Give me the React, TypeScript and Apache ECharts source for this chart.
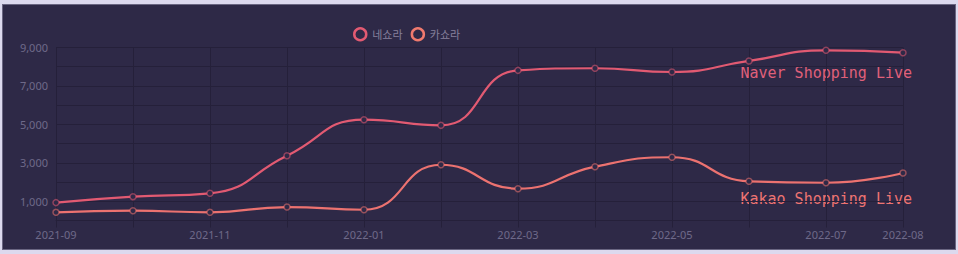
import React, { useEffect, useRef } from "react";
import * as echarts from "echarts";

const categories = [
  "2021-09", "2021-10", "2021-11", "2021-12", "2022-01", "2022-02",
  "2022-03", "2022-04", "2022-05", "2022-06", "2022-07", "2022-08",
];
const naverValues = [930, 1240, 1415, 3370, 5245, 4950, 7810, 7920, 7725, 8300, 8855, 8730];
const kakaoValues = [425, 510, 425, 700, 560, 2900, 1655, 2800, 3290, 2040, 1965, 2470];
const seriesNames = ["네쇼라", "카쇼라"];
const xTickLabels = ["2021-09", "2021-11", "2022-01", "2022-03", "2022-05", "2022-07", "2022-08"];
const naverLabel = "Naver Shopping Live";
const kakaoLabel = "Kakao Shopping Live";

const NAVER = "#e25a72";
const KAKAO = "#ec7270";
const BG = "#2e2947";
const GRIDC = "#25203a";
const LABELC = "#6e6989";

export default function App() {
  const ref = useRef<HTMLDivElement>(null);
  useEffect(() => {
    if (!ref.current) return;
    const chart = echarts.init(ref.current, null, { renderer: "svg" });
    chart.setOption({
      animation: false,
      backgroundColor: BG,
      legend: {
        left: 345,
        top: 17,
        icon: "circle",
        itemWidth: 12,
        itemHeight: 12,
        itemGap: 8,
        textStyle: { color: "#86809c", fontSize: 11, fontFamily: "Noto Sans CJK KR", padding: [0, 0, 0, 1] },
        data: [
          { name: seriesNames[0], itemStyle: { color: BG, borderColor: NAVER, borderWidth: 2.5 } },
          { name: seriesNames[1], itemStyle: { color: BG, borderColor: "#f07a6e", borderWidth: 2.5 } },
        ],
      },
      grid: { left: 53, right: 52, top: 42.5, bottom: 28.5 },
      xAxis: {
        type: "category",
        data: categories,
        boundaryGap: false,
        axisLine: { show: true, lineStyle: { color: GRIDC } },
        axisTick: { show: true, length: 7, lineStyle: { color: GRIDC } },
        splitLine: { show: true, lineStyle: { color: GRIDC, width: 1 } },
        axisLabel: {
          color: LABELC,
          fontSize: 11,
          fontFamily: "Noto Sans",
          margin: 8,
          interval: 0,
          formatter: (v: string) => (xTickLabels.includes(v) ? v : ""),
        },
      },
      yAxis: {
        type: "value",
        min: 0,
        max: 9000,
        interval: 1000,
        axisLine: { show: false },
        axisTick: { show: false },
        splitLine: { show: true, lineStyle: { color: GRIDC, width: 1 } },
        axisLabel: {
          color: LABELC,
          fontSize: 11,
          fontFamily: "Noto Sans",
          margin: 8,
          formatter: (v: number) => (v % 2000 === 1000 ? v.toLocaleString("en-US") : ""),
        },
      },
      series: [
        {
          name: seriesNames[0],
          type: "line",
          data: naverValues,
          smooth: 0.5,
          symbol: "circle",
          symbolSize: 6,
          lineStyle: { color: NAVER, width: 2.2 },
          itemStyle: { color: BG, borderColor: "rgba(226,90,114,0.55)", borderWidth: 1.5 },
        },
        {
          name: seriesNames[1],
          type: "line",
          data: kakaoValues,
          smooth: 0.5,
          symbol: "circle",
          symbolSize: 6,
          lineStyle: { color: KAKAO, width: 2.2 },
          itemStyle: { color: BG, borderColor: "rgba(236,114,112,0.55)", borderWidth: 1.5 },
        },
      ],
      graphic: [
        {
          type: "text",
          right: 43,
          top: 60,
          style: { text: naverLabel, fill: "#e0607a", font: "15px 'DejaVu Sans Mono'" },
        },
        {
          type: "text",
          right: 43,
          top: 186,
          style: { text: kakaoLabel, fill: "#ee7472", font: "15px 'DejaVu Sans Mono'" },
        },
      ],
    });
    return () => chart.dispose();
  }, []);

  return (
    <div style={{ position: "fixed", left: 0, top: 0, width: 958, height: 254, background: "#dcd9ee" }}>
      <div
        style={{
          position: "absolute",
          left: 2,
          top: 4,
          width: 952,
          height: 244,
          border: "1px solid #6a6682",
          background: BG,
        }}
      >
        <div ref={ref} style={{ width: 952, height: 244 }} />
      </div>
    </div>
  );
}
